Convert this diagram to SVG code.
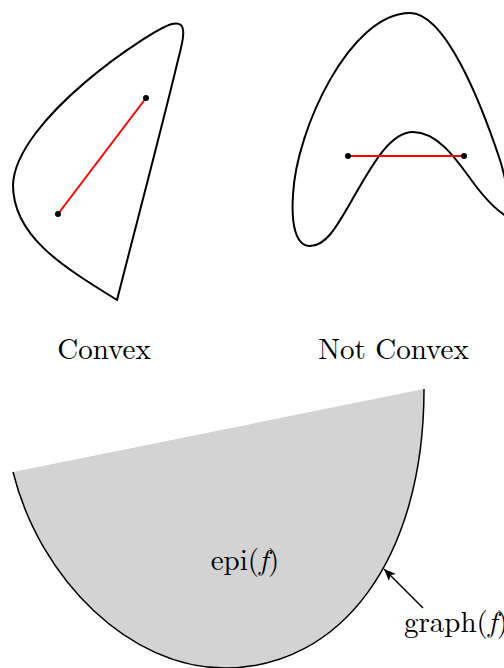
<svg xmlns="http://www.w3.org/2000/svg" width="504" height="668" viewBox="0 0 504 668">
<style>
.shape{fill:none;stroke:#000;stroke-width:2;stroke-linejoin:round}
.seg{stroke:#ff0000;stroke-width:2}
.dot{fill:#000}
.lbl{font-family:"Latin Modern Roman","CMU Serif","Liberation Serif",serif;font-size:29px;fill:#000}
.it{font-style:italic}
</style>
<defs>
<marker id="ah" markerWidth="12" markerHeight="10" refX="12" refY="5" orient="auto" markerUnits="userSpaceOnUse">
<path d="M0,0 L12,5 L0,10 L3,5 Z" fill="#000"/>
</marker>
</defs>
<g id="convex">
<path class="shape" d="M117,300 C140,210 165,115 178,60 C184,38 188,20 172,24 C150,30 15,120 13,185 C13,235 60,265 117,300 Z"/>
<line class="seg" x1="58" y1="214" x2="146" y2="98"/>
<circle class="dot" cx="58" cy="214" r="3"/>
<circle class="dot" cx="146" cy="98" r="3"/>
</g>
<g id="notconvex">
<path class="shape" d="M410,13 C445,13 480,100 500,160 C505,175 509,200 515,222 C498,212 488,202 475,185 C460,165 440,132 413,132 C390,132 372,165 352,200 C335,230 325,246 310,246 C296,246 291,225 293,195 C296,130 350,13 410,13 Z"/>
<line class="seg" x1="348" y1="156" x2="464" y2="156"/>
<circle class="dot" cx="348" cy="156" r="3"/>
<circle class="dot" cx="464" cy="156" r="3"/>
</g>
<g id="labels">
<text class="lbl" x="104" y="359" text-anchor="middle">Convex</text>
<text class="lbl" x="393.5" y="359" text-anchor="middle">Not Convex</text>
</g>
<g id="epi">
<path d="M13,472 L424,389 C424,560 340,668 225,668 C130,668 40,580 13,472 Z" fill="#d3d3d3"/>
<path d="M424,389 C424,560 340,668 225,668 C130,668 40,580 13,472" fill="none" stroke="#000" stroke-width="1.5"/>
<text class="lbl" x="245" y="570" text-anchor="middle">epi(<tspan class="it">f</tspan>)</text>
<text class="lbl" x="404" y="632">graph(<tspan class="it">f</tspan>)</text>
</g>
<g id="connectors">
<line x1="423" y1="608" x2="384" y2="569" stroke="#000" stroke-width="1.5" marker-end="url(#ah)"/>
</g>
</svg>
